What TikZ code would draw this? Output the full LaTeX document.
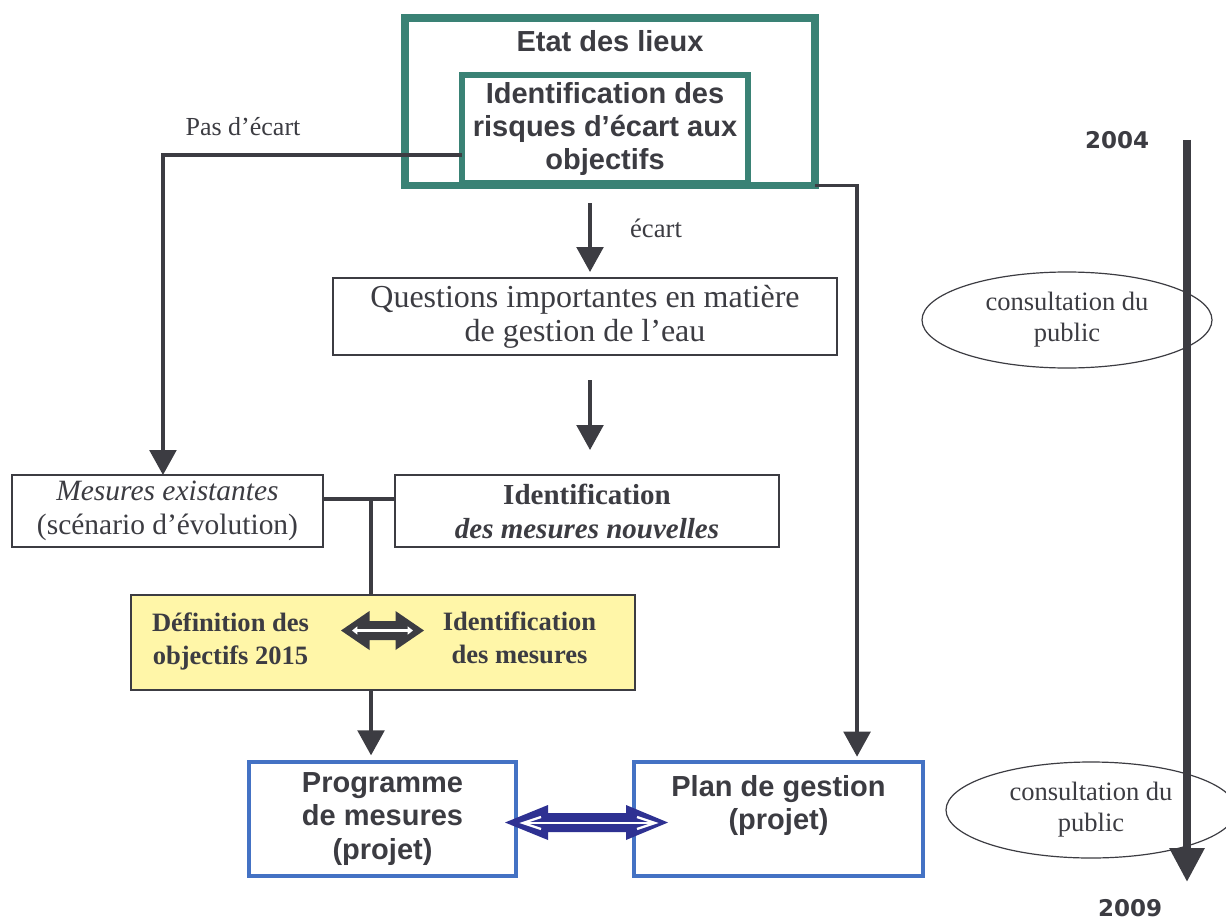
\documentclass[tikz,border=0pt]{standalone}
\usepackage{fontspec}
\setmainfont{Liberation Serif}
\setsansfont{Liberation Sans}
\newfontfamily\dejab{DejaVu Sans}
\usetikzlibrary{arrows.meta,calc,shapes.geometric}
\definecolor{tealc}{RGB}{58,130,117}
\definecolor{darkc}{RGB}{60,60,66}
\definecolor{bluec}{RGB}{68,114,196}
\definecolor{navyc}{RGB}{46,49,146}
\definecolor{yelc}{RGB}{255,246,168}
\tikzset{
  tealbox/.style={draw=tealc, rectangle, inner sep=0pt, outer sep=0pt, align=center},
  graybox/.style={draw=darkc, line width=1.1pt, fill=white, rectangle, inner sep=0pt, outer sep=0pt, align=center},
  bluebox/.style={draw=bluec, line width=3pt, fill=white, rectangle, inner sep=0pt, outer sep=0pt, align=center,
     minimum height=85.5pt, font=\sffamily\bfseries\fontsize{21.75}{25}\selectfont},
  conn/.style={draw=darkc, line width=2.6pt},
  arr/.style={conn, -{Triangle[length=18.75pt,width=20pt]}},
  oval/.style={draw=darkc, ellipse, line width=0.9pt, minimum width=217.5pt, minimum height=72pt, inner sep=0pt,
     align=center, font=\fontsize{19.9}{23.25}\selectfont},
  yeartxt/.style={font=\dejab\bfseries\fontsize{17.25}{20}\selectfont},
  every node/.append style={text=darkc}
}
\begin{document}
\begin{tikzpicture}[x=0.75pt,y=-0.75pt]
\useasboundingbox (0,0) rectangle (1226,920);
\fill[white] (0,0) rectangle (1226,920);

% ellipses (under the timeline)
\node[oval] (c1) at (1067,320) {consultation du\\public};
\node[oval] (c2) at (1091,810) {consultation du\\public};

% top boxes
\node[tealbox, line width=5.6pt, minimum width=307.5pt, minimum height=125.6pt] (outer) at (610,101.75) {};
\node[font=\sffamily\bfseries\fontsize{21.75}{26}\selectfont] (etat) at (610,41) {Etat des lieux};
\node[tealbox, line width=4.5pt, fill=white, minimum width=214.5pt, minimum height=81pt,
      font=\sffamily\bfseries\fontsize{21.75}{24.4}\selectfont] (inner) at (605,129)
      {\raisebox{-2pt}{Identification des}\\\raisebox{-2pt}{risques d’écart aux}\\\raisebox{-2pt}{objectifs}};

\node[graybox, minimum width=378pt, minimum height=57.75pt, font=\fontsize{24}{25.5}\selectfont] (q) at (585,316.5)
      {Questions importantes en matière\\de gestion de l’eau};

\node[graybox, minimum width=233.25pt, minimum height=54pt, font=\fontsize{22.1}{25.5}\selectfont] (mex) at (167.5,511)
      {{\itshape Mesures existantes}\\(scénario d’évolution)};
\node[graybox, minimum width=288pt, minimum height=54pt, font=\bfseries\fontsize{21.75}{25.5}\selectfont] (idn) at (587,511)
      {Identification\\{\itshape des mesures nouvelles}};

\node[graybox, fill=yelc, minimum width=378pt, minimum height=71.25pt] (yel) at (383,642.5) {};
\node[font=\bfseries\fontsize{19.9}{24.75}\selectfont, align=center] (def) at (230.5,641) {Définition des\\objectifs 2015};
\node[font=\bfseries\fontsize{19.9}{24.75}\selectfont, align=center] (idm) at (519.5,638) {Identification\\des mesures};

\node[bluebox, minimum width=200.25pt] (prog) at (382.5,819) {Programme\\de mesures\\(projet)};
\node[bluebox, minimum width=216.75pt] (plan) at (778.5,819) {Plan de gestion\\(projet)\\\mbox{}};

% labels
\node[font=\fontsize{19.5}{22}\selectfont] (pas) at (243,127) {Pas d’écart};
\node[font=\fontsize{20}{22}\selectfont] (ec) at (656,228) {écart};

% connectors
\draw[arr] ([yshift=-19.5pt]inner.west) -| ([xshift=-3.4pt]mex.north);
\draw[arr, shorten >=4pt] (outer.south east) -| ([xshift=58.9pt]plan.north);
\coordinate (e0) at (590,203);
\draw[arr, shorten >=4.5pt] (e0) -- (e0 |- q.north);
\coordinate (e1) at (590,380);
\draw[arr, shorten >=18.75pt] (e1) -- (e1 |- idn.north);
\draw[conn] ([yshift=9pt]mex.east) -- ([yshift=9pt]idn.west);
\coordinate (j) at ($([yshift=9pt]mex.east)!0.667!([yshift=9pt]idn.west)$);
\draw[conn] (j) -- (j |- yel.north);
\draw[arr, shorten >=5pt] (j |- yel.south) -- (j |- prog.north);

% double arrow inside yellow box
\begin{scope}[shift={(yel.center)}]
  \fill[darkc] (-42,-12) -- (-13.5,-31.5) -- (-13.5,-21.5) -- (12.5,-21.5) -- (12.5,-31.5) -- (41,-12)
     -- (12.5,7.5) -- (12.5,-2.5) -- (-13.5,-2.5) -- (-13.5,7.5) -- cycle;
  \draw[white, line width=2pt, {Triangle[length=4pt,width=6pt]}-{Triangle[length=4pt,width=6pt]}] (-31,-12) -- (30,-12);
\end{scope}

% blue double arrow between the two result boxes
\coordinate (bm) at ($(prog.east)!0.5!(plan.west)$);
\begin{scope}[shift={(bm)}]
  \fill[navyc] (-70,3.5) -- (-27,-14) -- (-27,-6) -- (51,-6) -- (51,-14) -- (93,3.5)
     -- (51,21) -- (51,13) -- (-27,13) -- (-27,21) -- cycle;
  \draw[white, line width=2.2pt] (-50,4) -- (78,4);
  \draw[white, line width=1.7pt, line join=miter] (-34,-2) -- (-52,4) -- (-34,10);
  \draw[white, line width=1.7pt, line join=miter] (62,-2) -- (80,4) -- (62,10);
\end{scope}

% timeline
\coordinate (t0) at (1187,140);
\coordinate (t1) at (1187,882);
\draw[darkc, line width=6pt, -{Triangle[length=25.5pt,width=25pt]}] (t0) -- (t1);
\node[yeartxt] (y04) at (1117,140) {2004};
\node[yeartxt] (y09) at (1130,908) {2009};
\end{tikzpicture}
\end{document}
